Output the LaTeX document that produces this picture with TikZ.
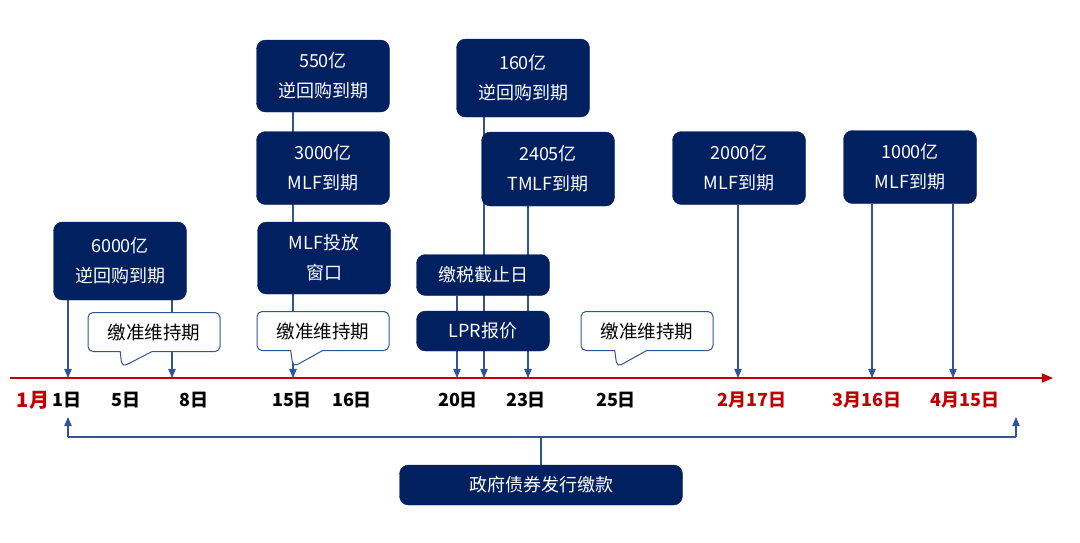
\documentclass[tikz,border=0pt]{standalone}
\usepackage{fontspec}
\setmainfont{Noto Sans CJK SC}
\usetikzlibrary{arrows}
\usetikzlibrary{shapes.callouts}
\usetikzlibrary{backgrounds}
\definecolor{navy}{HTML}{002060}
\definecolor{lnblue}{HTML}{2F5597}
\definecolor{dred}{HTML}{C00000}
\tikzset{
  evt/.style={draw=navy,fill=navy,rounded corners=9pt,text=white,align=center,minimum width=133pt,font=\fontsize{18}{30}\selectfont},
  keep/.style={rectangle callout,draw=lnblue,line width=1pt,fill=white,rounded corners=5pt,minimum width=132pt,minimum height=39pt,callout pointer width=32pt,font=\fontsize{18.5}{20}\selectfont},
  day/.style={font=\bfseries\fontsize{18}{20}\selectfont},
  lnk/.style={lnblue,line width=1.1pt},
  arr/.style={lnk,-triangle 45},
}
\begin{document}
\begin{tikzpicture}[x=1pt,y=-1pt]
        \useasboundingbox (0,0) rectangle (1080,542);
        % timeline
        \coordinate (t0) at (10,378);
        \coordinate (t1) at (1053,378);
        \draw[dred,line width=1.6pt,-triangle 45] (t0) -- (t1);

        \coordinate (p1) at (68,378);
        \coordinate (p8) at (172,378);
        \coordinate (p15) at (293,378);
        \coordinate (p20a) at (457,378);
        \coordinate (p20b) at (484,378);
        \coordinate (p23) at (528,378);
        \coordinate (p217) at (738,378);
        \coordinate (p316) at (872,378);
        \coordinate (p415) at (953,378);

        % events
        \node[evt,minimum height=78pt] (b6000) at (120,261) {6000亿\\逆回购到期};
        \node[evt,minimum height=72pt] (b550) at (323,76) {550亿\\逆回购到期};
        \node[evt,minimum height=73pt] (b3000) at (323,168) {3000亿\\MLF到期};
        \node[evt,minimum height=72pt] (bwin) at (324,258) {MLF投放\\窗口};
        \node[evt,minimum height=78pt] (b160) at (523,78) {160亿\\逆回购到期};
        \node[evt,minimum height=74pt] (b2405) at (548,169) {2405亿\\TMLF到期};
        \node[evt,minimum height=41pt] (btax) at (483,275) {缴税截止日};
        \node[evt,minimum height=40pt] (blpr) at (483,331) {LPR报价};
        \node[evt,minimum height=73pt] (b2000) at (739,168) {2000亿\\MLF到期};
        \node[evt,minimum height=73pt] (b1000) at (910,167) {1000亿\\MLF到期};
        \node[evt,minimum width=283pt,minimum height=40pt] (bgov) at (541,485) {政府债券发行缴款};

        \node[keep,callout absolute pointer={(122,367)}] (k1) at (154,332) {缴准维持期};
        \node[keep,callout absolute pointer={(293,367)}] (k2) at (323,331) {缴准维持期};
        \node[keep,callout absolute pointer={(617,367)}] (k3) at (647,331) {缴准维持期};

        % dates
        \node[day,text=dred,font=\bfseries\fontsize{20}{20}\selectfont] (m1) at (33,400) {1月};
        \node[day] (d1) at (67,400) {1日};
        \node[day] (d5) at (126,400) {5日};
        \node[day] (d8) at (194,400) {8日};
        \node[day] (d15) at (292,400) {15日};
        \node[day] (d16) at (352,400) {16日};
        \node[day] (d20) at (458,400) {20日};
        \node[day] (d23) at (526,400) {23日};
        \node[day] (d25) at (616,400) {25日};
        \node[day,text=dred] (d217) at (752,400) {2月17日};
        \node[day,text=dred] (d316) at (867,400) {3月16日};
        \node[day,text=dred] (d415) at (965,400) {4月15日};

        \begin{scope}[on background layer]
          \draw[arr] (b6000.south -| p1) -- (p1);
          \draw[arr] (b6000.south -| p8) -- (p8);
          \draw[arr] (b550.south -| p15) -- (p15);
          \draw[arr] (b160.south -| p20b) -- (p20b);
          \draw[arr] (b2405.south -| p23) -- (p23);
          \draw[arr] (btax.south -| p20a) -- (p20a);
          \draw[arr] (b2000.south -| p217) -- (p217);
          \draw[arr] (b1000.south -| p316) -- (p316);
          \draw[arr] (b1000.south -| p415) -- (p415);
        \end{scope}

        % payment bracket
        \coordinate (g1) at (68,437);
        \coordinate (g2) at (1016,437);
        \coordinate (u1) at (68,417);
        \coordinate (u2) at (1016,417);
        \draw[lnk] (bgov.north) -- (bgov.north |- g1);
        \draw[lnk] (g1) -- (g2);
        \draw[arr] (g1) -- (u1);
        \draw[arr] (g2) -- (u2);
      \end{tikzpicture}
\end{document}
